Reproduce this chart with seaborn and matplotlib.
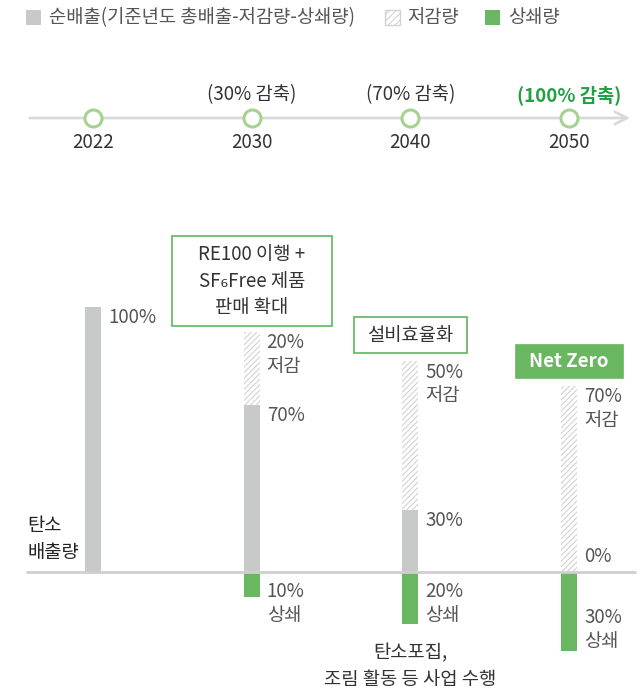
import pandas as pd
import seaborn as sns
import matplotlib.pyplot as plt
from matplotlib.patches import Rectangle

# ---- data ----
years = ["2022", "2030", "2040", "2050"]
goals = ["", "(30% 감축)", "(70% 감축)", "(100% 감축)"]

# bar heights as drawn (2022 emissions = 100); the infographic is not to scale
net_drawn = [100, 63, 23.4, 0]
cut_drawn = [0, 27.7, 56.2, 70.2]
offset_drawn = [0, 9.5, 19.6, 29.7]

net_labels = ["100%", "70%", "30%", "0%"]
cut_labels = ["", "20%", "50%", "70%"]
offset_labels = ["", "10%", "20%", "30%"]

notes = ["", "RE100 이행 +\nSF₆Free 제품\n판매 확대", "설비효율화", "Net Zero"]
offset_note = "탄소포집,\n조림 활동 등 사업 수행"
legend_labels = ["순배출(기준년도 총배출-저감량-상쇄량)", "저감량", "상쇄량"]

GRAY = "#c8c9c9"
GREEN = "#6ab761"
HATCH = "#d2d2d2"
TEXT = "#555555"
DARK = "#333333"
FS = 13.5

W, H = 644, 688
BASE = 572      # baseline, pixels from top
SCALE = 2.65    # pixels per percent
STEP = 158.7    # pixels between bars
X0 = 93         # first bar centre, pixels


def u(px):
    return px / SCALE


def ydata(py):
    return (BASE - py) / SCALE


def xdata(px):
    return (px - X0) / STEP


sns.set_theme(style="white")
plt.rcParams["font.family"] = ["Noto Sans CJK KR", "DejaVu Sans"]
plt.rcParams["hatch.linewidth"] = 0.8
plt.rcParams["hatch.color"] = HATCH

df = pd.DataFrame({
    "year": years,
    "net": net_drawn,
    "total": [n + c for n, c in zip(net_drawn, cut_drawn)],
    "offset": [-o for o in offset_drawn],
})

fig = plt.figure(figsize=(W / 100, H / 100), dpi=100)
ax = fig.add_axes([0, 0, 1, 1])

# reduction (hatched) drawn as full stack, net emissions over it, offset below zero
sns.barplot(data=df, x="year", y="total", color="white", width=0.1, ax=ax,
            hatch="//////", edgecolor=HATCH, linewidth=0, saturation=1)
sns.barplot(data=df, x="year", y="net", color=GRAY, width=0.1, ax=ax,
            linewidth=0, saturation=1)
sns.barplot(data=df, x="year", y="offset", color=GREEN, width=0.1, ax=ax,
            linewidth=0, saturation=1)

# baseline
ax.plot([xdata(27), xdata(635)], [0, 0], color="#cfcfcf", lw=2, zorder=1)

# value labels beside bars
LINE = u(23.5)
for i in range(len(years)):
    xl = i + 15 / STEP
    top = net_drawn[i] + cut_drawn[i]
    if net_drawn[i] > 0:
        ax.text(xl, net_drawn[i] - u(10.5), net_labels[i], color=TEXT,
                fontsize=FS, va="center", ha="left")
    else:
        ax.text(xl, u(16), net_labels[i], color=TEXT, fontsize=FS,
                va="center", ha="left")
    if cut_labels[i]:
        y1 = top - u(11)
        ax.text(xl, y1, cut_labels[i], color=TEXT, fontsize=FS, va="center")
        ax.text(xl, y1 - LINE, "저감", color=TEXT, fontsize=FS, va="center")
    if offset_labels[i]:
        y1 = min(-u(19.5), -offset_drawn[i] + u(33))
        ax.text(xl, y1, offset_labels[i], color=TEXT, fontsize=FS, va="center")
        ax.text(xl, y1 - LINE, "상쇄", color=TEXT, fontsize=FS, va="center")

ax.text(xdata(27), ydata(525), "탄소", color="#222222", fontsize=FS, va="center")
ax.text(xdata(27), ydata(552.5), "배출량", color="#222222", fontsize=FS, va="center")

for k, line in enumerate(offset_note.split("\n")):
    ax.text(2, ydata(653 + 26 * k), line, color=DARK, fontsize=FS,
            ha="center", va="center")

# annotation boxes
boxes = {1: (172, 332, 236, 326), 2: (354, 467, 317, 353), 3: (516, 623, 345, 378)}
for i, (x1, x2, y1, y2) in boxes.items():
    filled = notes[i] == "Net Zero"
    ax.add_patch(Rectangle((xdata(x1), ydata(y2)), (x2 - x1) / STEP, u(y2 - y1),
                           facecolor=GREEN if filled else "white",
                           edgecolor=GREEN if filled else "#5cb85c",
                           lw=1.2, zorder=3))
    lines = notes[i].split("\n")
    yc = (y1 + y2) / 2
    for k, line in enumerate(lines):
        py = yc + (k - (len(lines) - 1) / 2) * 26.5
        ax.text(i, ydata(py), line, ha="center", va="center", fontsize=FS,
                color="white" if filled else DARK,
                fontweight="bold" if filled else "normal", zorder=4)

# timeline
ty = ydata(118)
ax.annotate("", xy=(xdata(633), ty), xytext=(xdata(27), ty),
            arrowprops=dict(arrowstyle="->", color="#d9d9d9", lw=2,
                            mutation_scale=22), zorder=1)
tl = pd.DataFrame({"year": years, "y": [ty] * len(years)})
sns.scatterplot(data=tl, x="year", y="y", s=150, color="white",
                edgecolor="#a5d38f", linewidth=2.2, ax=ax, zorder=3)
ax.set_xlim(xdata(0), xdata(W))
ax.set_ylim(ydata(H), ydata(0))
ax.axis("off")
for i, yr in enumerate(years):
    ax.text(i, ydata(143), yr, ha="center", va="center", fontsize=FS, color=DARK)
    if goals[i]:
        last = i == len(years) - 1
        ax.text(i, ydata(95), goals[i], ha="center", va="center", fontsize=FS,
                color="#23a046" if last else DARK,
                fontweight="bold" if last else "normal")


# legend
def fig_rect(x, y, w, h, **kw):
    fig.add_artist(Rectangle((x / W, 1 - (y + h) / H), w / W, h / H,
                             transform=fig.transFigure, **kw))


fig_rect(26, 10, 15, 15, facecolor=GRAY, edgecolor="none")
fig_rect(385, 10, 15, 15, facecolor="white", edgecolor=HATCH, hatch="/////", lw=1)
fig_rect(485, 10, 15, 15, facecolor=GREEN, edgecolor="none")
for x, lab in zip([49, 407, 508], legend_labels):
    fig.text(x / W, 1 - 17.5 / H, lab, fontsize=FS, color=TEXT, va="center")

fig.savefig("out.png", dpi=100)
